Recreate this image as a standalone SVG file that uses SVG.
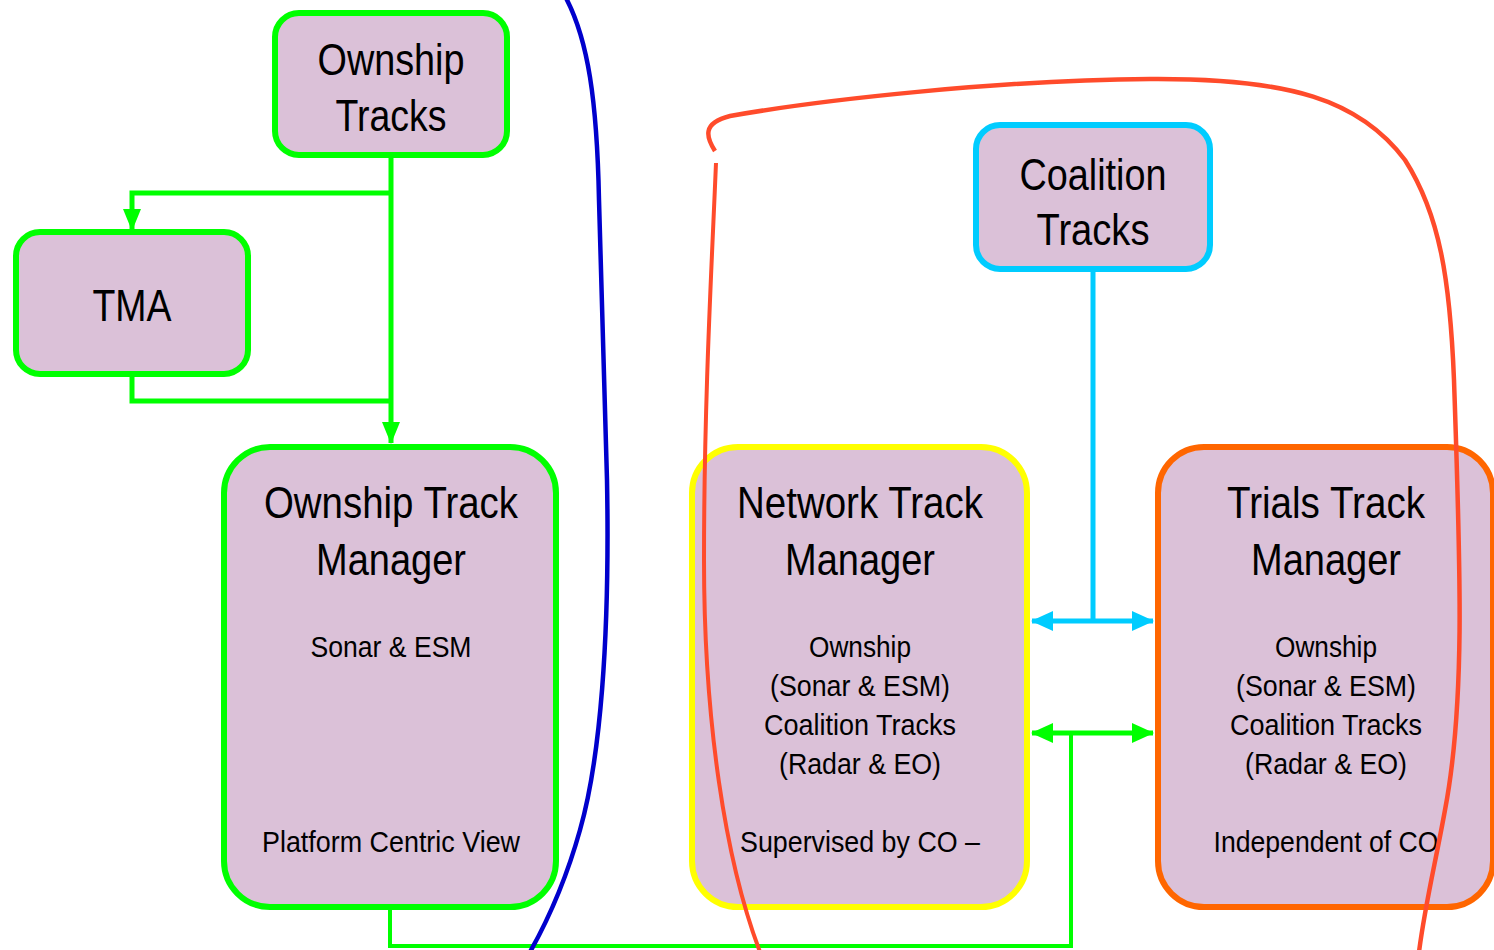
<svg xmlns="http://www.w3.org/2000/svg" width="1494" height="950" viewBox="0 0 1494 950">
<style>
.box{fill:#DBC1D8;stroke-width:6}
.g{stroke:#00FF00}
.y{stroke:#FFFF00}
.c{stroke:#00CCFF}
.o{stroke:#FF6600}
.big{font-family:"Liberation Sans",Arial,sans-serif;font-size:45px;fill:#000;text-anchor:middle}
.sm{font-family:"Liberation Sans",Arial,sans-serif;font-size:30px;fill:#000;text-anchor:middle}
.ln{fill:none;stroke-linejoin:miter}
.curve{fill:none;stroke-linecap:butt}
</style>
<defs>
<marker id="ag" markerUnits="userSpaceOnUse" markerWidth="22" markerHeight="22" viewBox="0 0 22 22" refX="21" refY="11" orient="auto-start-reverse"><path d="M0,2 L22,11 L0,20 Z" fill="#00FF00"/></marker>
<marker id="ag2" markerUnits="userSpaceOnUse" markerWidth="22" markerHeight="22" viewBox="0 0 22 22" refX="21" refY="11" orient="auto-start-reverse"><path d="M0,1 L22,11 L0,21 Z" fill="#00FF00"/></marker>
<marker id="ac" markerUnits="userSpaceOnUse" markerWidth="22" markerHeight="22" viewBox="0 0 22 22" refX="21" refY="11" orient="auto-start-reverse"><path d="M0,1 L22,11 L0,21 Z" fill="#00CCFF"/></marker>
</defs>
<rect width="1494" height="950" fill="#FFFFFF"/>

<g id="ownship-tracks">
<rect class="box g" x="275" y="13" width="232" height="142" rx="24"/>
<text class="big" x="391" y="75" textLength="147" lengthAdjust="spacingAndGlyphs">Ownship</text>
<text class="big" x="391" y="131" textLength="111" lengthAdjust="spacingAndGlyphs">Tracks</text>
</g>
<g id="tma">
<rect class="box g" x="16" y="232" width="232" height="142" rx="24"/>
<text class="big" x="132" y="321" textLength="79" lengthAdjust="spacingAndGlyphs">TMA</text>
</g>
<g id="coalition-tracks">
<rect class="box c" x="976" y="125" width="234" height="144" rx="24"/>
<text class="big" x="1093" y="190" textLength="147" lengthAdjust="spacingAndGlyphs">Coalition</text>
<text class="big" x="1093" y="245" textLength="113" lengthAdjust="spacingAndGlyphs">Tracks</text>
</g>
<g id="ownship-track-manager">
<rect class="box g" x="224" y="447" width="332" height="460" rx="46"/>
<text class="big" x="391" y="518" textLength="254" lengthAdjust="spacingAndGlyphs">Ownship Track</text>
<text class="big" x="391" y="575" textLength="150" lengthAdjust="spacingAndGlyphs">Manager</text>
<text class="sm" x="391" y="657" textLength="161" lengthAdjust="spacingAndGlyphs">Sonar &amp; ESM</text>
<text class="sm" x="391" y="852" textLength="258" lengthAdjust="spacingAndGlyphs">Platform Centric View</text>
</g>
<g id="network-track-manager">
<rect class="box y" x="692" y="447" width="335" height="460" rx="46"/>
<text class="big" x="860" y="518" textLength="246" lengthAdjust="spacingAndGlyphs">Network Track</text>
<text class="big" x="860" y="575" textLength="150" lengthAdjust="spacingAndGlyphs">Manager</text>
<text class="sm" x="860" y="657" textLength="102" lengthAdjust="spacingAndGlyphs">Ownship</text>
<text class="sm" x="860" y="696" textLength="180" lengthAdjust="spacingAndGlyphs">(Sonar &amp; ESM)</text>
<text class="sm" x="860" y="735" textLength="192" lengthAdjust="spacingAndGlyphs">Coalition Tracks</text>
<text class="sm" x="860" y="774" textLength="162" lengthAdjust="spacingAndGlyphs">(Radar &amp; EO)</text>
<text class="sm" x="860" y="852" textLength="240" lengthAdjust="spacingAndGlyphs">Supervised by CO –</text>
</g>
<g id="trials-track-manager">
<rect class="box o" x="1158" y="447" width="335" height="460" rx="46"/>
<text class="big" x="1326" y="518" textLength="198" lengthAdjust="spacingAndGlyphs">Trials Track</text>
<text class="big" x="1326" y="575" textLength="150" lengthAdjust="spacingAndGlyphs">Manager</text>
<text class="sm" x="1326" y="657" textLength="102" lengthAdjust="spacingAndGlyphs">Ownship</text>
<text class="sm" x="1326" y="696" textLength="180" lengthAdjust="spacingAndGlyphs">(Sonar &amp; ESM)</text>
<text class="sm" x="1326" y="735" textLength="192" lengthAdjust="spacingAndGlyphs">Coalition Tracks</text>
<text class="sm" x="1326" y="774" textLength="162" lengthAdjust="spacingAndGlyphs">(Radar &amp; EO)</text>
<text class="sm" x="1326" y="852" textLength="225" lengthAdjust="spacingAndGlyphs">Independent of CO</text>
</g>

<g id="connectors">
<path class="ln" d="M391,158 V443" stroke="#00FF00" stroke-width="5" marker-end="url(#ag)"/>
<path class="ln" d="M391,193 H132 V230" stroke="#00FF00" stroke-width="5" marker-end="url(#ag)"/>
<path class="ln" d="M132,377 V401 H391" stroke="#00FF00" stroke-width="5"/>
<path class="ln" d="M1093,272 V621" stroke="#00CCFF" stroke-width="5"/>
<path class="ln" d="M1032,621 H1153" stroke="#00CCFF" stroke-width="5" marker-start="url(#ac)" marker-end="url(#ac)"/>
<path class="ln" d="M390,910 V946 H1071 V733" stroke="#00FF00" stroke-width="4"/>
<path class="ln" d="M1032,733 H1153" stroke="#00FF00" stroke-width="5" marker-start="url(#ag2)" marker-end="url(#ag2)"/>
</g>

<g id="boundaries">
<path class="curve" stroke="#0000CC" stroke-width="4.5" d="M566,-2 C588,40 597,100 599,200 L607,480 C610,640 600,760 580,830 C566,880 548,920 530,952"/>
<path class="curve" stroke="#FF4B2B" stroke-width="4" d="M760,952 C725,860 704,720 704,560 C704,400 712,260 716,163"/>
<path class="curve" stroke="#FF4B2B" stroke-width="4.5" d="M715,151 C706,137 702,123 730,116 C820,100 1000,80 1150,79 C1290,78 1360,100 1405,160 C1440,215 1450,280 1454,380 C1460,560 1466,700 1445,810 C1435,865 1425,905 1419,952"/>
</g>
</svg>
